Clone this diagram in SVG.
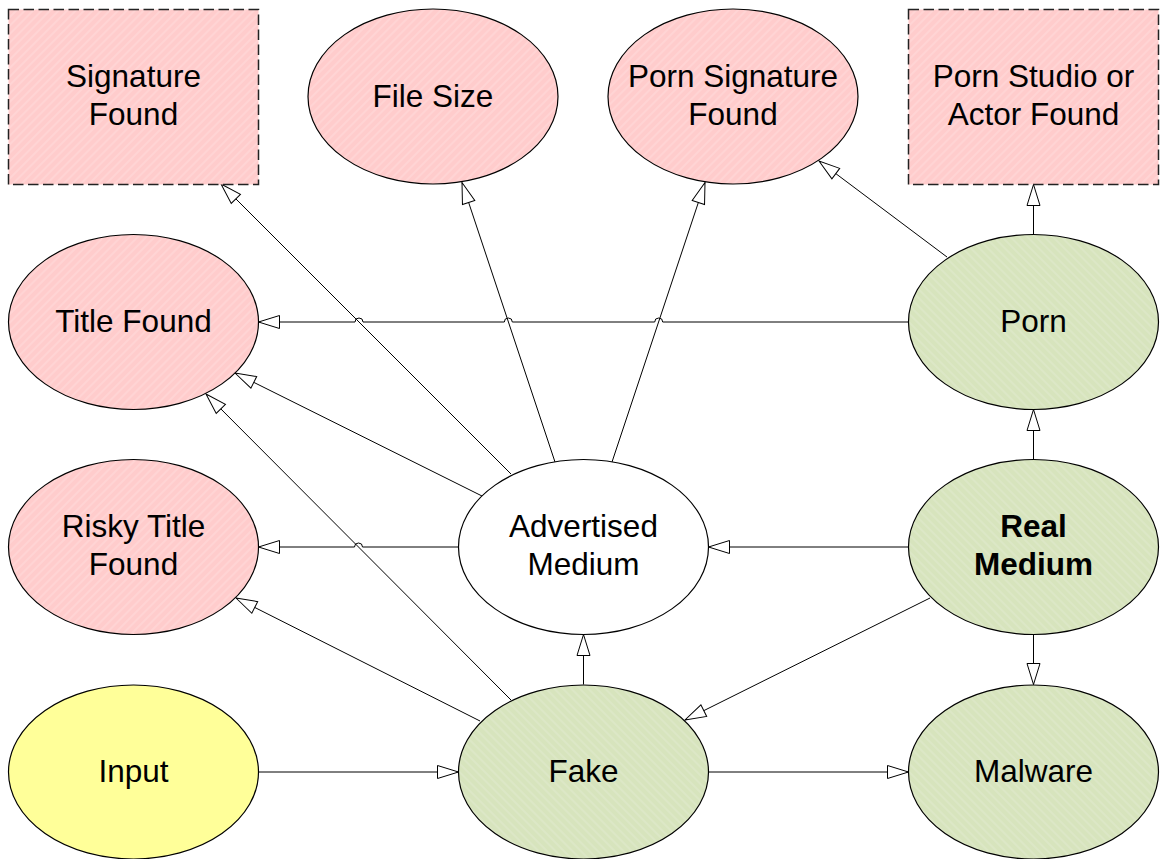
<svg xmlns="http://www.w3.org/2000/svg" width="1163" height="859" viewBox="0 0 1163 859">
<defs>
<pattern id="hpink" width="6" height="6" patternUnits="userSpaceOnUse" patternTransform="rotate(45)">
<rect width="6" height="6" fill="#ffcccc"/>
<line x1="1" y1="0" x2="1" y2="6" stroke="#ffdcdc" stroke-width="1"/>
</pattern>
<pattern id="hgreen" width="6" height="6" patternUnits="userSpaceOnUse" patternTransform="rotate(-45)">
<rect width="6" height="6" fill="#d7e4bd"/>
<line x1="1" y1="0" x2="1" y2="6" stroke="#e2ebd0" stroke-width="1"/>
</pattern>
<marker id="arr" viewBox="-22 -8 23 16" markerWidth="23" markerHeight="16" refX="0" refY="0" orient="auto" markerUnits="userSpaceOnUse">
<path d="M0,0 L-21,-6.5 L-21,6.5 Z" fill="#fff" stroke="#000" stroke-width="1"/>
</marker>
</defs>
<style>
.n{stroke:#000;stroke-width:1.2}
.pink{fill:url(#hpink)}
.green{fill:url(#hgreen)}
.yellow{fill:#ffff99}
.white{fill:#fff}
.dash{stroke:#222;stroke-width:1.5;stroke-dasharray:10.5 4.5}
text{font-family:"Liberation Sans",Arial,sans-serif;font-size:31.5px;fill:#000;text-anchor:middle}
.b{font-weight:bold}
.e{fill:none;stroke:#000;stroke-width:1;marker-end:url(#arr)}
</style>
<rect width="1163" height="859" fill="#fff"/>
<g id="connectors">
<path class="e" d="M258.5,772 L458.5,772"/>
<path class="e" d="M708.5,772 L908.5,772"/>
<path class="e" d="M583.5,684.5 L583.5,634.5"/>
<path class="e" d="M908.5,547 L708.5,547"/>
<path class="e" d="M930,598 L685,720"/>
<path class="e" d="M1033.5,459.5 L1033.5,409.5"/>
<path class="e" d="M1033.5,634.5 L1033.5,684.5"/>
<path class="e" d="M1033.5,234.5 L1033.5,184.5"/>
<path class="e" d="M947,257 L819,161"/>
<path class="e" d="M908.5,322 H662.7 A4,4 0 0 0 654.7,322 H512.3 A4,4 0 0 0 504.3,322 H363 A4,4 0 0 0 355,322 H258.5"/>
<path class="e" d="M511,474 L221,184"/>
<path class="e" d="M555,462 L462,182.5"/>
<path class="e" d="M612,462 L705,182.5"/>
<path class="e" d="M482,496 L235,373"/>
<path class="e" d="M458.5,547 H362.5 A4,4 0 0 0 354.5,547 H258.5"/>
<path class="e" d="M511,700 L206,394"/>
<path class="e" d="M480,721 L236,598"/>
</g>
<g id="signature-found">
<rect class="pink dash" x="8.5" y="9.5" width="250" height="175"/>
<text x="133.5" y="87">Signature</text>
<text x="133.5" y="125">Found</text>
</g>
<g id="file-size">
<ellipse class="n pink" cx="433" cy="96.5" rx="125" ry="87.5"/>
<text x="433" y="107">File Size</text>
</g>
<g id="porn-signature-found">
<ellipse class="n pink" cx="733" cy="96.5" rx="125" ry="87.5"/>
<text x="733" y="87">Porn Signature</text>
<text x="733" y="125">Found</text>
</g>
<g id="porn-studio-found">
<rect class="pink dash" x="908.5" y="9.5" width="250" height="175"/>
<text x="1033.5" y="87">Porn Studio or</text>
<text x="1033.5" y="125">Actor Found</text>
</g>
<g id="title-found">
<ellipse class="n pink" cx="133.5" cy="322" rx="125" ry="87.5"/>
<text x="133.5" y="332">Title Found</text>
</g>
<g id="porn">
<ellipse class="n green" cx="1033.5" cy="322" rx="125" ry="87.5"/>
<text x="1033.5" y="332">Porn</text>
</g>
<g id="risky-title-found">
<ellipse class="n pink" cx="133.5" cy="547" rx="125" ry="87.5"/>
<text x="133.5" y="537">Risky Title</text>
<text x="133.5" y="575">Found</text>
</g>
<g id="advertised-medium">
<ellipse class="n white" cx="583.5" cy="547" rx="125" ry="87.5"/>
<text x="583.5" y="537">Advertised</text>
<text x="583.5" y="575">Medium</text>
</g>
<g id="real-medium">
<ellipse class="n green" cx="1033.5" cy="547" rx="125" ry="87.5"/>
<text class="b" x="1033.5" y="537">Real</text>
<text class="b" x="1033.5" y="575">Medium</text>
</g>
<g id="input">
<ellipse class="n yellow" cx="133.5" cy="772" rx="125" ry="87"/>
<text x="133.5" y="782">Input</text>
</g>
<g id="fake">
<ellipse class="n green" cx="583.5" cy="772" rx="125" ry="87"/>
<text x="583.5" y="782">Fake</text>
</g>
<g id="malware">
<ellipse class="n green" cx="1033.5" cy="772" rx="125" ry="87"/>
<text x="1033.5" y="782">Malware</text>
</g>
</svg>
